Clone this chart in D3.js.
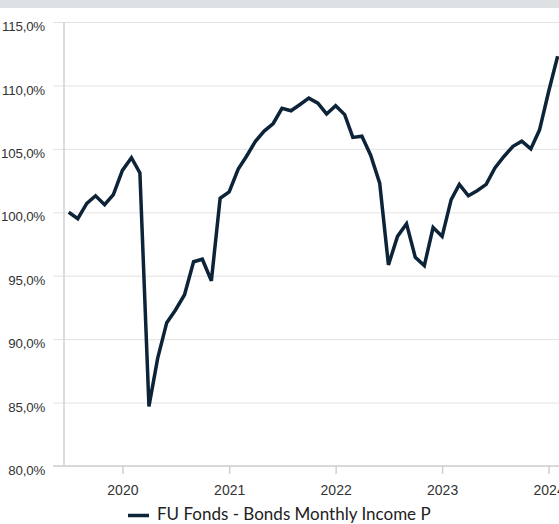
<!DOCTYPE html>
<html>
<head>
<meta charset="utf-8">
<script src="https://cdn.jsdelivr.net/npm/d3@7"></script>
<style>
  html, body { margin: 0; padding: 0; background: #fff; }
  svg { display: block; font-family: Lato, "Open Sans", sans-serif; }
</style>
</head>
<body>
<svg id="chart" width="559" height="524"></svg>
<script>
// monthly values (Jul 2019 .. Feb 2024)
const months = [
  '2019-07','2019-08','2019-09','2019-10','2019-11','2019-12',
  '2020-01','2020-02','2020-03','2020-04','2020-05','2020-06',
  '2020-07','2020-08','2020-09','2020-10','2020-11','2020-12',
  '2021-01','2021-02','2021-03','2021-04','2021-05','2021-06',
  '2021-07','2021-08','2021-09','2021-10','2021-11','2021-12',
  '2022-01','2022-02','2022-03','2022-04','2022-05','2022-06',
  '2022-07','2022-08','2022-09','2022-10','2022-11','2022-12',
  '2023-01','2023-02','2023-03','2023-04','2023-05','2023-06',
  '2023-07','2023-08','2023-09','2023-10','2023-11','2023-12',
  '2024-01','2024-02'
];
const values = [
  100.0, 99.5, 100.7, 101.3, 100.6, 101.4,
  103.3, 104.3, 103.1, 84.7, 88.5, 91.3,
  92.3, 93.5, 96.1, 96.3, 94.6, 101.1,
  101.6, 103.4, 104.4, 105.6, 106.4, 107.0,
  108.2, 108.0, 108.5, 109.0, 108.6, 107.75,
  108.4, 107.7, 105.9, 106.0, 104.5, 102.3,
  95.85, 98.1, 99.1, 96.45, 95.8, 98.8,
  98.1, 101.0, 102.2, 101.3, 101.7, 102.2,
  103.5, 104.4, 105.2, 105.6, 105.0, 106.5,
  109.5, 112.3
];
const yTicks = [80, 85, 90, 95, 100, 105, 110, 115];
const xTickYears = ['2020', '2021', '2022', '2023', '2024'];
const seriesName = 'FU Fonds - Bonds Monthly Income P';

const parse = d3.timeParse('%Y-%m');
const data = months.map((m, i) => ({ date: parse(m), value: values[i] }));
const yearDates = xTickYears.map(y => parse(y + '-01'));

const svg = d3.select('#chart');
const W = 559;

// top band (cut-off header)
svg.append('rect').attr('x', 0).attr('y', 0).attr('width', W).attr('height', 8).attr('fill', '#dde1e4');

const x = d3.scaleTime().domain([yearDates[0], yearDates[4]]).range([122.4, 548.6]);
const y = d3.scaleLinear().domain([80, 115]).range([466, 22]);

// horizontal grid + y labels
const yAxis = d3.axisLeft(y).tickValues(yTicks).tickSize(-(W - 53)).tickPadding(8)
  .tickFormat(d => d3.format('.1f')(d).replace('.', ',') + '%');
const gy = svg.append('g').attr('transform', 'translate(53,0)').call(yAxis);
gy.select('.domain').remove();
gy.selectAll('.tick line').attr('stroke', '#e3e3e3').attr('stroke-width', 1);
gy.selectAll('.tick text').attr('fill', '#333').attr('font-size', 13.3)
  .attr('letter-spacing', '-0.2px').attr('x', -8).attr('dy', '0.65em');

// bottom axis line and ticks
svg.append('line').attr('x1', 53).attr('x2', W).attr('y1', 466).attr('y2', 466)
  .attr('stroke', '#d0d0d0').attr('stroke-width', 1.5);
const xAxis = d3.axisBottom(x).tickValues(yearDates).tickSize(8).tickPadding(11)
  .tickFormat(d3.timeFormat('%Y'));
const gx = svg.append('g').attr('transform', 'translate(0,466)').call(xAxis);
gx.select('.domain').remove();
gx.selectAll('.tick line').attr('stroke', '#d0d0d0').attr('stroke-width', 1.5);
gx.selectAll('.tick text').attr('fill', '#333').attr('font-size', 14);

// vertical axis line
svg.append('line').attr('x1', 64).attr('x2', 64).attr('y1', 22).attr('y2', 466)
  .attr('stroke', '#d0d0d0').attr('stroke-width', 1.5);

// series
const line = d3.line().x(d => x(d.date)).y(d => y(d.value));
svg.append('path').datum(data).attr('d', line)
  .attr('fill', 'none').attr('stroke', '#0c2338').attr('stroke-width', 3.5)
  .attr('stroke-linejoin', 'miter');

// legend
const lg = svg.append('g').attr('transform', 'translate(128,515.5)');
lg.append('line').attr('x1', 0).attr('x2', 21).attr('y1', 0).attr('y2', 0)
  .attr('stroke', '#0c2338').attr('stroke-width', 3.5);
lg.append('text').attr('x', 29).attr('y', 4.5).attr('fill', '#222')
  .attr('font-size', 17).text(seriesName);
</script>
</body>
</html>
